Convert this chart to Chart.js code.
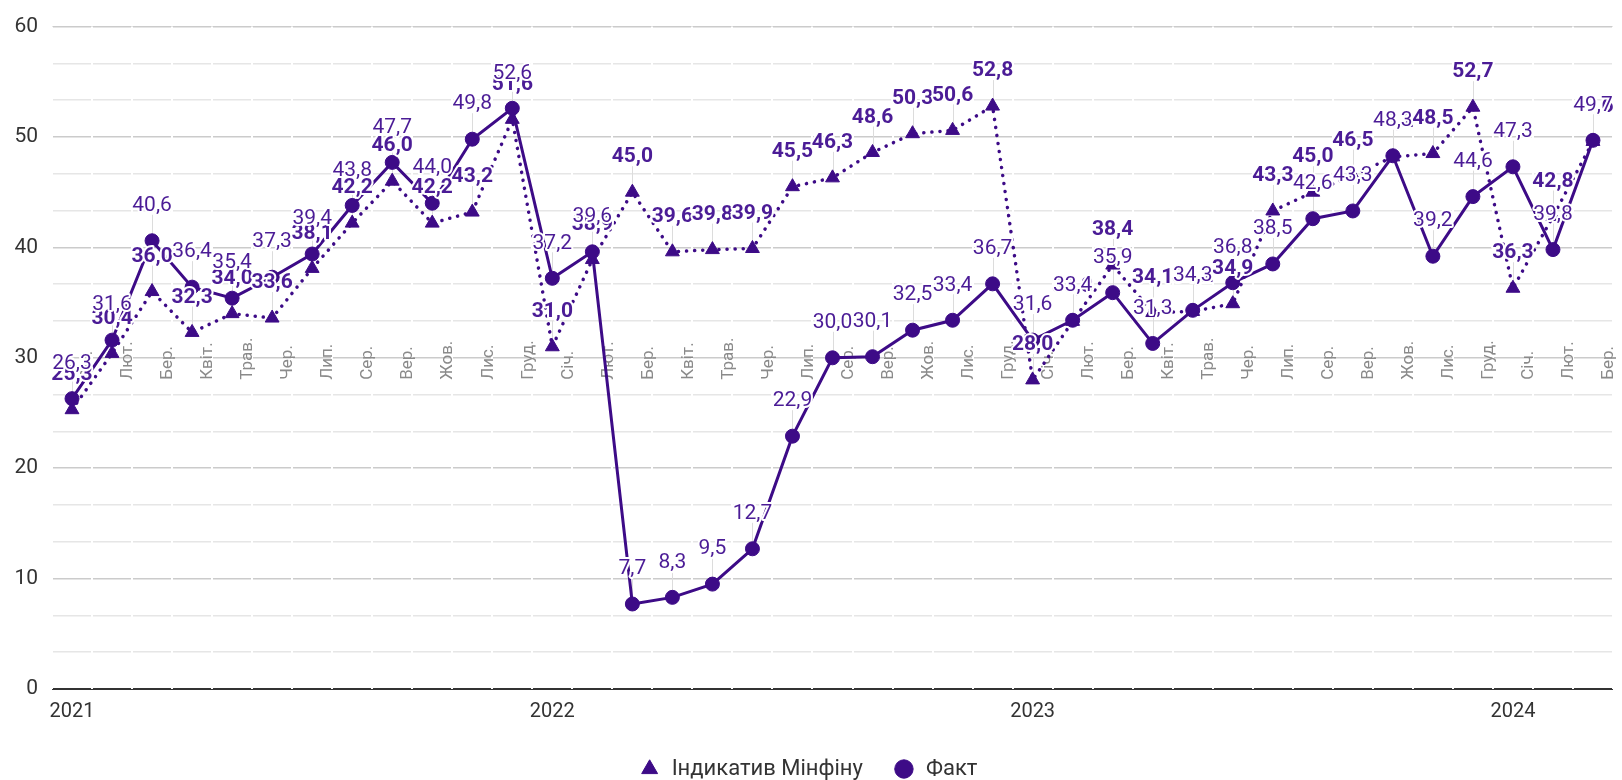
<!DOCTYPE html>
<html>
<head>
<meta charset="utf-8">
<script src="https://cdn.jsdelivr.net/npm/chart.js@4.4.0/dist/chart.umd.min.js"></script>
<style>
  html, body { margin: 0; padding: 0; background: #fff; }
  #wrap { width: 1622px; height: 780px; }
</style>
</head>
<body>
<div id="wrap"><canvas id="myChart" width="1622" height="780"></canvas></div>
<script>
// дані: січень 2021 - березень 2024
const monthNames = ["Січ.", "Лют.", "Бер.", "Квіт.", "Трав.", "Чер.", "Лип.", "Сер.", "Вер.", "Жов.", "Лис.", "Груд."];
const yearLabels = ["2021", "2022", "2023", "2024"];
const monthCount = 39;

const factValues = [
  26.3, 31.6, 40.6, 36.4, 35.4, 37.3, 39.4, 43.8, 47.7, 44.0, 49.8, 52.6,
  37.2, 39.6, 7.7, 8.3, 9.5, 12.7, 22.9, 30.0, 30.1, 32.5, 33.4, 36.7,
  31.6, 33.4, 35.9, 31.3, 34.3, 36.8, 38.5, 42.6, 43.3, 48.3, 39.2, 44.6,
  47.3, 39.8, 49.7,
];

const indicativeValues = [
  25.3, 30.4, 36.0, 32.3, 34.0, 33.6, 38.1, 42.2, 46.0, 42.2, 43.2, 51.6,
  31.0, 38.9, 45.0, 39.6, 39.8, 39.9, 45.5, 46.3, 48.6, 50.3, 50.6, 52.8,
  28.0, 33.3, 38.4, 34.1, 34.2, 34.9, 43.3, 45.0, 46.5, 48.2, 48.5, 52.7,
  36.3, 42.8, 49.6,
];

const yMajorTicks = [0, 10, 20, 30, 40, 50, 60];
const monthLabelLevel = 30;

const categories = [];
for (let i = 0; i < monthCount; i++) categories.push(monthNames[i % 12]);

const purple = "#3d0b87";
const labelPurple = "#4b1c96";

const fmt = (v) => v.toFixed(1).replace(".", ",");

// підписи місяців на рівні 30
const monthLabels = {
  id: "monthLabels",
  beforeDatasetsDraw(chart) {
    const { ctx, scales: { x, y } } = chart;
    const base = y.getPixelForValue(monthLabelLevel);
    ctx.save();
    ctx.font = "17px Roboto";
    ctx.fillStyle = "#8a8a8a";
    ctx.textAlign = "left";
    ctx.textBaseline = "middle";
    categories.forEach((lab, i) => {
      ctx.save();
      ctx.translate(x.getPixelForValue(i) + 16, base + 22);
      ctx.rotate(-Math.PI / 2);
      ctx.fillText(lab, 0, 0);
      ctx.restore();
    });
    ctx.restore();
  },
};

// підписи значень з виносками
const valueLabels = {
  id: "valueLabels",
  beforeDatasetsDraw(chart) {
    const { ctx } = chart;
    ctx.save();
    ctx.strokeStyle = "#dcdcdc";
    ctx.lineWidth = 1;
    chart.data.datasets.forEach((ds, di) => {
      chart.getDatasetMeta(di).data.forEach((pt) => {
        ctx.beginPath();
        ctx.moveTo(Math.round(pt.x) + 0.5, pt.y);
        ctx.lineTo(Math.round(pt.x) + 0.5, pt.y - 26);
        ctx.stroke();
      });
    });
    ctx.restore();
  },
  afterDatasetsDraw(chart) {
    const { ctx } = chart;
    ctx.save();
    ctx.textAlign = "center";
    ctx.textBaseline = "middle";
    ctx.lineJoin = "round";
    [1, 0].forEach((di) => {
      const ds = chart.data.datasets[di];
      ctx.font = (di === 1 ? "bold " : "") + "21px Roboto";
      chart.getDatasetMeta(di).data.forEach((pt, i) => {
        const txt = fmt(ds.data[i]);
        ctx.strokeStyle = "#fff";
        ctx.lineWidth = 4;
        ctx.strokeText(txt, pt.x, pt.y - 35);
        ctx.fillStyle = labelPurple;
        ctx.fillText(txt, pt.x, pt.y - 35);
      });
    });
    ctx.restore();
  },
};

const data = {
  labels: categories,
  datasets: [
    {
      label: "Факт",
      data: factValues,
      borderColor: purple,
      backgroundColor: purple,
      borderWidth: 3,
      pointStyle: "circle",
      pointRadius: 7,
      pointBorderWidth: 1,
      pointHoverRadius: 7,
      tension: 0,
    },
    {
      label: "Індикатив Мінфіну",
      data: indicativeValues,
      borderColor: purple,
      backgroundColor: purple,
      borderWidth: 3.5,
      borderDash: [0.1, 8],
      borderCapStyle: "round",
      pointStyle: "triangle",
      pointRadius: 8,
      pointBorderWidth: 1,
      pointHoverRadius: 8,
      tension: 0,
    },
  ],
};

const config = {
  type: "line",
  data: data,
  options: {
    responsive: false,
    animation: false,
    layout: {
      padding: { top: 21, right: 6, bottom: -10, left: 0 },
    },
    scales: {
      x: {
        offset: true,
        border: { display: false },
        grid: {
          offset: true,
          color: "#ffffff",
          lineWidth: 2,
          drawTicks: false,
          z: -1,
        },
        ticks: {
          autoSkip: false,
          maxRotation: 0,
          minRotation: 0,
          padding: 11,
          color: "#333",
          font: { family: "Roboto", size: 20 },
          callback: (val, i) => (i % 12 === 0 ? yearLabels[i / 12] : ""),
        },
        afterFit: (scale) => {
          scale.height = 39;
        },
      },
      y: {
        min: 0,
        max: 60,
        border: { display: false },
        afterBuildTicks: (scale) => {
          const ticks = [];
          yMajorTicks.forEach((v, k) => {
            ticks.push({ value: v });
            if (k < yMajorTicks.length - 1) {
              ticks.push({ value: v + 10 / 3 });
              ticks.push({ value: v + 20 / 3 });
            }
          });
          scale.ticks = ticks;
        },
        grid: {
          drawTicks: false,
          z: -2,
          color: (c) => {
            const v = c.tick.value;
            if (v === 0) return "#333";
            return yMajorTicks.includes(v) ? "#cbcbcb" : "#e6e6e6";
          },
          lineWidth: (c) => (c.tick.value === 0 ? 2 : 1.5),
        },
        ticks: {
          padding: 14,
          color: "#333",
          font: { family: "Roboto", size: 21 },
          callback: (v) => (yMajorTicks.includes(v) ? String(v) : ""),
        },
        afterFit: (scale) => {
          scale.width = 52;
        },
      },
    },
    plugins: {
      legend: {
        position: "bottom",
        reverse: true,
        labels: {
          usePointStyle: true,
          boxHeight: 13,
          padding: 30,
          color: "#333",
          font: { family: "Roboto", size: 22 },
        },
      },
      tooltip: { enabled: false },
    },
  },
  plugins: [monthLabels, valueLabels],
};

new Chart(document.getElementById("myChart"), config);
</script>
</body>
</html>
